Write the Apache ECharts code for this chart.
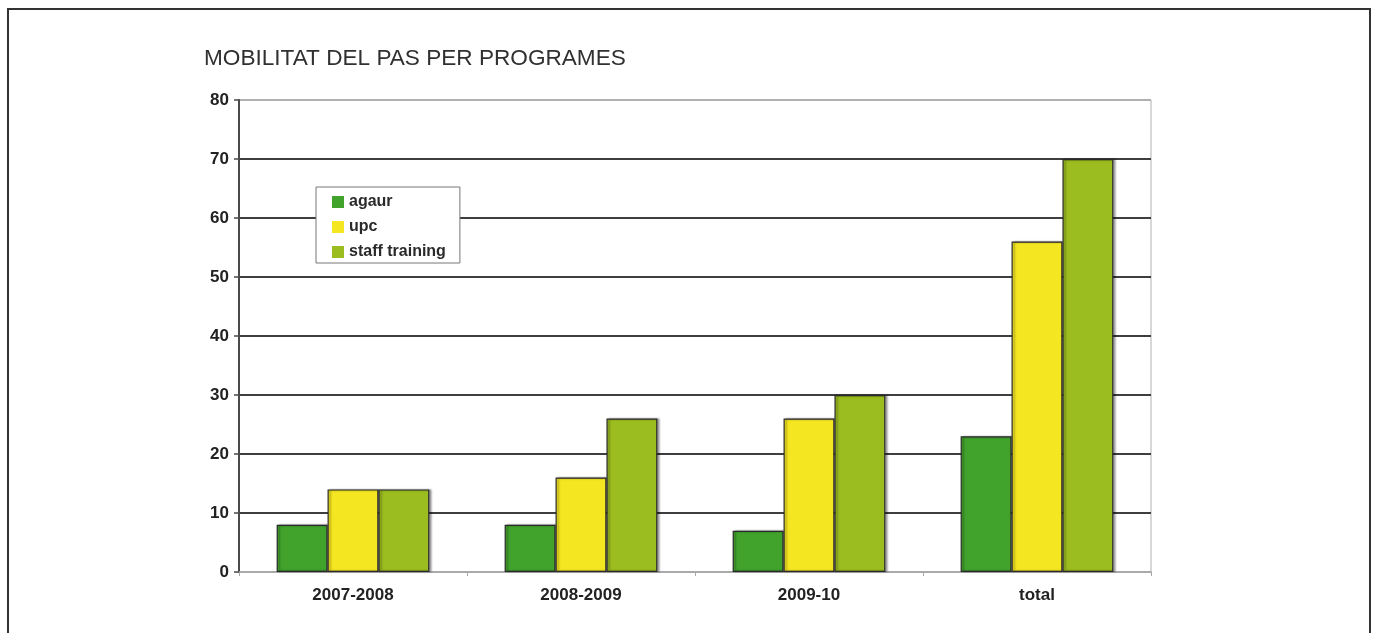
<!DOCTYPE html>
<html>
<head>
<meta charset="utf-8">
<script src="https://cdn.jsdelivr.net/npm/echarts@6/dist/echarts.min.js"></script>
<style>
html,body{margin:0;padding:0;background:#fff;}
#chart{width:1375px;height:633px;}
</style>
</head>
<body>
<div id="chart"></div>
<script>
var titleText = 'MOBILITAT DEL PAS PER PROGRAMES';
var categories = ['2007-2008', '2008-2009', '2009-10', 'total'];
var seriesNames = ['agaur', 'upc', 'staff training'];
var agaur = [8, 8, 7, 23];
var upc = [14, 16, 26, 56];
var staffTraining = [14, 26, 30, 70];
var yTicks = [0, 10, 20, 30, 40, 50, 60, 70, 80];
var colors = ['#41a22c', '#f4e621', '#9cbd1f'];

var chart = echarts.init(document.getElementById('chart'), null, {renderer: 'canvas'});
var gridColors = yTicks.map(function (v, i) {
  return (i === 0 || i === yTicks.length - 1) ? '#b0b0b0' : '#3e3e3e';
});
function mk(name, data, color) {
  return {
    name: name,
    type: 'bar',
    data: data,
    barGap: '0%',
    barCategoryGap: '33%',
    itemStyle: {
      color: color,
      borderColor: '#2a2a2a',
      borderWidth: 1.2,
      shadowColor: 'rgba(0,0,0,0.35)',
      shadowOffsetX: 2,
      shadowOffsetY: 0,
      shadowBlur: 2
    }
  };
}
chart.setOption({
  animation: false,
  title: {
    text: titleText,
    left: 199,
    top: 42,
    textStyle: {fontFamily: 'Liberation Sans', fontSize: 22.6, fontWeight: 'normal', color: '#303030'}
  },
  legend: {
    orient: 'vertical',
    left: 316,
    top: 187,
    data: seriesNames,
    icon: 'rect',
    itemWidth: 12,
    itemHeight: 12,
    itemGap: 9,
    padding: [7, 14, 3, 16],
    borderColor: '#777',
    borderWidth: 1,
    backgroundColor: '#fff',
    itemStyle: {borderWidth: 0, shadowBlur: 0, shadowOffsetX: 0},
    textStyle: {fontFamily: 'Liberation Sans', fontSize: 16, lineHeight: 16, fontWeight: 'bold', color: '#2a2a2a', padding: [0, 0, 0, 0]}
  },
  grid: {
    left: 239,
    right: 224,
    top: 100,
    bottom: 61,
    show: true,
    borderColor: '#b0b0b0',
    borderWidth: 1
  },
  xAxis: {
    type: 'category',
    data: categories,
    axisLine: {lineStyle: {color: '#a8a8a8', width: 1.5}},
    axisTick: {show: true, length: 4, lineStyle: {color: '#a8a8a8'}},
    axisLabel: {fontFamily: 'Liberation Sans', fontSize: 17, fontWeight: 'bold', color: '#222', margin: 15}
  },
  yAxis: {
    type: 'value',
    min: 0,
    max: 80,
    interval: 10,
    axisLine: {show: true, lineStyle: {color: '#4a4a4a', width: 2}},
    axisTick: {show: true, length: 5, lineStyle: {color: '#4a4a4a', width: 1.5}},
    axisLabel: {fontFamily: 'Liberation Sans', fontSize: 17, fontWeight: 'bold', color: '#222', margin: 10},
    splitLine: {show: true, lineStyle: {color: gridColors, width: 2}}
  },
  graphic: [{
    type: 'polyline',
    shape: {points: [[8, 640], [8, 9], [1370, 9], [1370, 640]]},
    style: {stroke: '#333', lineWidth: 2, fill: null},
    silent: true
  }],
  series: [
    mk(seriesNames[0], agaur, colors[0]),
    mk(seriesNames[1], upc, colors[1]),
    mk(seriesNames[2], staffTraining, colors[2])
  ]
});
</script>
</body>
</html>
